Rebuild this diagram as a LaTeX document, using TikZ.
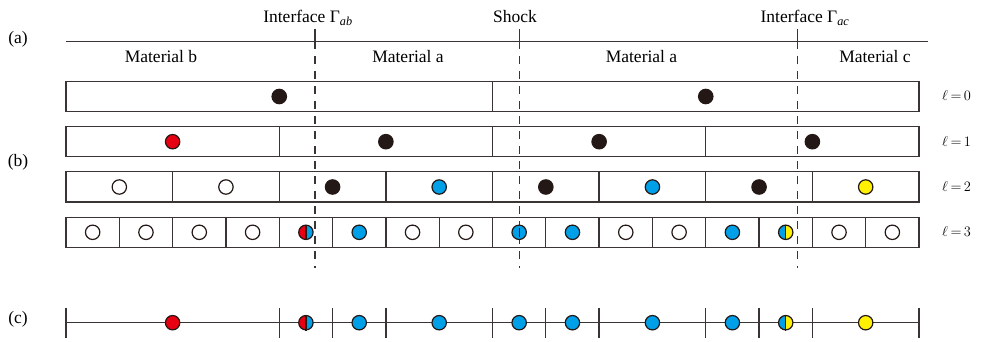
\documentclass[tikz,border=0pt]{standalone}
\usepackage{fontspec}
\setmainfont{Liberation Serif}
\definecolor{ln}{HTML}{3A3534}
\definecolor{dk}{HTML}{231815}
\definecolor{rd}{HTML}{E60012}
\definecolor{bl}{HTML}{00A0E9}
\definecolor{yl}{HTML}{FFF100}
\tikzset{
 edge/.style={draw=ln, line width=1.3pt},
 dashln/.style={draw=ln, line width=1.3pt, dash pattern=on 8pt off 7pt},
 dot/.style={circle, draw=dk, line width=1.2pt, minimum size=14.4pt, inner sep=0pt},
 lbl/.style={font=\fontsize{17.5}{20}\selectfont, anchor=base, inner sep=0pt},
 lev/.style={font=\fontsize{14.5}{17}\selectfont, anchor=base west, inner sep=0pt},
}
\newcommand{\splitdot}[5]{%
  \fill[#4] (#2,#3) ++(90:7.2pt) arc[start angle=90,end angle=270,radius=7.2pt] -- cycle;
  \fill[#5] (#2,#3) ++(-90:7.2pt) arc[start angle=-90,end angle=90,radius=7.2pt] -- cycle;
  \node[dot] (#1) at (#2,#3) {};
  \draw[edge,draw=dk] (#1.north) -- (#1.south);}
\begin{document}
\begin{tikzpicture}[x=1pt,y=-1pt]
\useasboundingbox (0,0) rectangle (984,342);
% labels
\node[lbl] (pa) at (18,43.5) {(a)};
\node[lbl] (pb) at (18,166.5) {(b)};
\node[lbl] (pc) at (18,323.5) {(c)};
\node[lbl] (tab) at (308,23) {Interface~Γ\textsubscript{\textit{ab}}};
\node[lbl] (tsh) at (515,23) {Shock};
\node[lbl] (tac) at (805,23) {Interface~Γ\textsubscript{\textit{ac}}};
\node[lbl] (mb) at (161,62.3) {Material b};
\node[lbl] (ma1) at (408,62.3) {Material a};
\node[lbl] (ma2) at (641.5,62.3) {Material a};
\node[lbl] (mc) at (875,62.3) {Material c};
\node[lev] (l0) at (942,101) {$\ell\mskip3mu{=}\mskip3mu0$};
\node[lev] (l1) at (942,146.2) {$\ell\mskip3mu{=}\mskip3mu1$};
\node[lev] (l2) at (942,191.5) {$\ell\mskip3mu{=}\mskip3mu2$};
\node[lev] (l3) at (942,236.8) {$\ell\mskip3mu{=}\mskip3mu3$};
% top line
\draw[edge] (66,41.3) -- (928,41.3);
% interface / shock lines
\foreach \xx [count=\k] in {315,519.3,797.7}{
  \coordinate (it\k) at (\xx,29);
  \coordinate (im\k) at (\xx,41.3);
  \coordinate (ib\k) at (\xx,268);
  \draw[edge] (it\k) -- (im\k);
  \draw[dashln] (im\k) -- (ib\k);
}
% rows
\foreach \yt/\yb/\stp in {81.7/111.3/8, 126.7/156.7/4, 171.7/202/2, 217.3/247.3/1}{
  \draw[edge] (66,\yt) rectangle (919,\yb);
  \pgfmathtruncatemacro{\n}{16/\stp-1}
  \foreach \j in {1,...,\n}{
    \draw[edge] ({66+\j*\stp*53.3125},\yt) -- ({66+\j*\stp*53.3125},\yb);
  }
}
% level 0
\foreach \i/\c [count=\k] in {4/dk,12/dk}
  \node[dot,fill=\c] (a\k) at ({66+\i*53.3125},96.5) {};
% level 1
\foreach \i/\c [count=\k] in {2/rd,6/dk,10/dk,14/dk}
  \node[dot,fill=\c] (b\k) at ({66+\i*53.3125},141.7) {};
% level 2
\foreach \i/\c [count=\k] in {1/white,3/white,5/dk,7/bl,9/dk,11/bl,13/dk,15/yl}
  \node[dot,fill=\c] (c\k) at ({66+\i*53.3125},187) {};
% level 3
\foreach \i/\c [count=\k] in {0.5/white,1.5/white,2.5/white,3.5/white,5.5/bl,6.5/white,7.5/white,8.5/bl,9.5/bl,10.5/white,11.5/white,12.5/bl,14.5/white,15.5/white}
  \node[dot,fill=\c] (d\k) at ({66+\i*53.3125},232.3) {};
\draw[edge,draw=dk] (d8.center) ++(0,-4.6) -- ++(0,9.2);
\splitdot{ds1}{{66+4.5*53.3125}}{232.3}{rd}{bl}
\splitdot{ds2}{{66+13.5*53.3125}}{232.3}{bl}{yl}
% (c) line
\coordinate (cl) at (66,322.7);
\coordinate (cr) at (919,322.7);
\draw[edge] (cl) -- (cr);
\foreach \i in {0,4,5,6,8,9,10,12,13,14,16}
  \draw[edge] ({66+\i*53.3125},308.3) -- ({66+\i*53.3125},338.3);
\foreach \i/\c [count=\k] in {2/rd,5.5/bl,7/bl,8.5/bl,9.5/bl,11/bl,12.5/bl,15/yl}
  \node[dot,fill=\c] (e\k) at ({66+\i*53.3125},322.7) {};
\splitdot{es1}{{66+4.5*53.3125}}{322.7}{rd}{bl}
\splitdot{es2}{{66+13.5*53.3125}}{322.7}{bl}{yl}
\end{tikzpicture}
\end{document}
